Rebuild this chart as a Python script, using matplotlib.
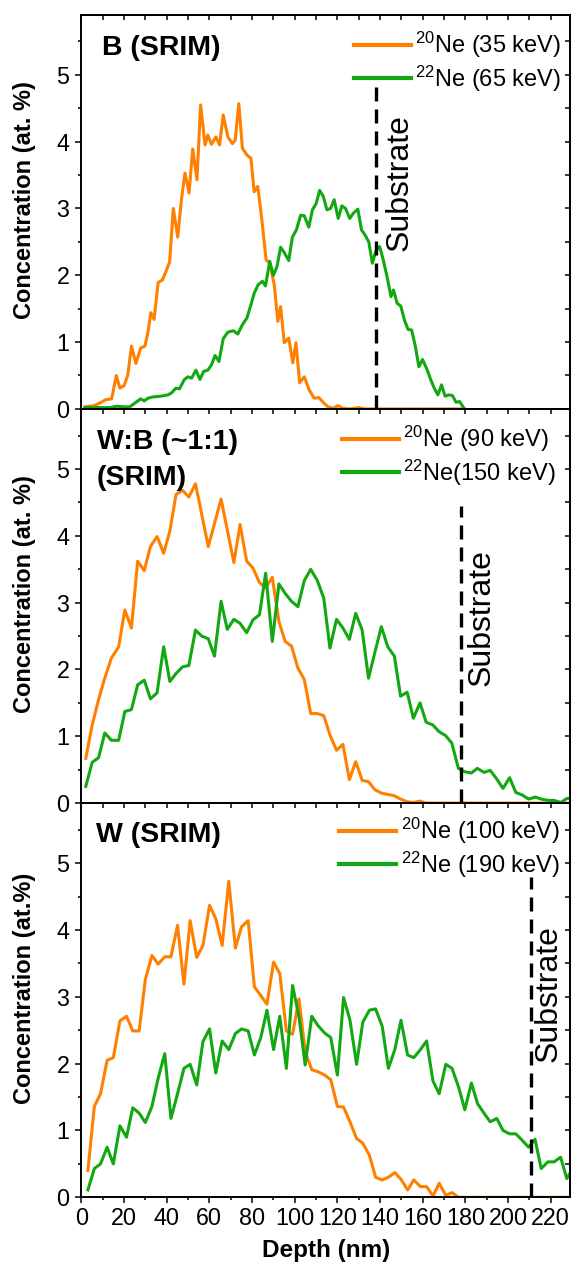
import matplotlib
matplotlib.use("Agg")
import matplotlib.pyplot as plt
from matplotlib.ticker import MultipleLocator, NullFormatter
from matplotlib.lines import Line2D

plt.rcParams['font.family'] = ['Liberation Sans', 'DejaVu Sans']
plt.rcParams['mathtext.fontset'] = 'custom'
plt.rcParams['mathtext.rm'] = 'Liberation Sans'

# ---------------- data ----------------
# Panel 1: B (SRIM)
b_ne20_depth = [1.7, 6.1, 8.2, 11.6, 14.2, 16.4, 18.1, 20.1, 21.8, 23.5, 25.6, 27.8, 29.8, 31.2, 32.6,
                34.1, 36.0, 38.0, 39.7, 41.4, 43.1, 45.2, 46.9, 48.6, 50.5, 52.2, 54.2, 55.9, 58.0, 59.3,
                61.0, 63.1, 64.8, 66.5, 68.7, 70.8, 72.1, 73.8, 75.5, 77.6, 79.5, 81.0, 82.7, 84.6, 86.6,
                88.3, 90.4, 92.1, 93.4, 95.1, 97.2, 99.1, 100.6, 102.3, 104.5, 106.7, 109.1, 111.3, 113.6,
                115.6, 118.2, 120.2, 122.4, 125.8, 130.1, 132.7, 179.5]
b_ne20_conc = [0.03, 0.05, 0.08, 0.14, 0.15, 0.5, 0.31, 0.35, 0.51, 0.94, 0.68, 0.91, 0.94, 1.14, 1.44,
               1.34, 1.89, 1.93, 2.06, 2.2, 3.0, 2.57, 3.13, 3.53, 3.23, 3.89, 3.43, 4.55, 3.95, 4.1,
               3.96, 4.07, 3.95, 4.4, 4.07, 3.97, 4.02, 4.57, 3.9, 3.8, 3.75, 3.25, 3.33, 2.83, 2.23,
               2.18, 1.86, 1.31, 1.53, 0.99, 1.06, 0.69, 0.99, 0.39, 0.48, 0.29, 0.16, 0.17, 0.09,
               0.03, 0.01, 0.05, 0.01, 0.0, 0.02, 0.0, 0.0]
b_ne22_depth = [1.7, 13.3, 16.7, 20.1, 22.7, 25.2, 27.8, 29.5, 31.2, 33.8, 37.2, 38.9, 40.6, 42.3, 44.3,
                46.0, 48.3, 50.0, 51.7, 53.7, 55.6, 57.3, 59.3, 61.0, 62.7, 64.5, 66.5, 68.7, 71.3, 73.3,
                75.5, 77.6, 79.5, 81.0, 82.9, 84.9, 86.3, 88.3, 90.0, 91.7, 93.4, 95.1, 97.2, 98.9, 100.8,
                102.8, 104.5, 106.6, 108.3, 110.0, 111.7, 113.4, 115.1, 116.8, 118.5, 120.4, 122.1, 123.8,
                125.8, 127.5, 129.6, 131.3, 133.0, 134.7, 136.4, 138.1, 139.8, 141.5, 143.4, 145.1, 146.3,
                148.0, 149.7, 151.4, 153.1, 154.8, 156.5, 158.2, 159.9, 162.0, 163.7, 165.4, 167.1, 168.8,
                170.5, 172.2, 173.9, 175.6, 177.3, 179.5]
b_ne22_conc = [0.02, 0.02, 0.04, 0.03, 0.03, 0.09, 0.15, 0.12, 0.16, 0.18, 0.19, 0.2, 0.21, 0.24, 0.31,
               0.3, 0.44, 0.48, 0.46, 0.58, 0.44, 0.56, 0.58, 0.66, 0.8, 0.71, 1.05, 1.15, 1.17, 1.12,
               1.26, 1.36, 1.56, 1.73, 1.86, 1.91, 1.84, 2.21, 2.0, 2.13, 2.42, 2.34, 2.22, 2.57, 2.68,
               2.9, 2.89, 2.72, 2.98, 3.07, 3.27, 3.18, 2.98, 3.0, 3.13, 2.85, 3.04, 3.0, 2.85, 2.93,
               2.99, 2.68, 2.6, 2.5, 2.18, 2.37, 2.43, 2.23, 1.96, 1.68, 1.78, 1.58, 1.54, 1.33, 1.19,
               1.18, 0.94, 0.63, 0.74, 0.59, 0.44, 0.31, 0.21, 0.36, 0.19, 0.21, 0.2, 0.1, 0.11, 0.0]

# Panel 2: W:B (~1:1) (SRIM)
wb_ne20_depth = [2.1, 5.1, 8.1, 11.0, 14.1, 17.5, 20.4, 23.5, 26.4, 29.5, 32.4, 35.5, 38.6, 41.5, 44.4,
                 47.5, 50.4, 53.5, 59.5, 65.5, 71.5, 74.4, 77.5, 80.4, 83.5, 86.4, 89.5, 92.6, 95.5, 98.5,
                 101.5, 104.5, 107.5, 110.6, 113.6, 116.5, 119.6, 122.6, 125.6, 128.6, 131.6, 134.6,
                 137.6, 140.6, 143.6, 146.7, 149.6, 152.7, 155.6, 158.7, 161.6, 229.0]
wb_ne20_conc = [0.67, 1.17, 1.55, 1.87, 2.17, 2.34, 2.89, 2.62, 3.62, 3.48, 3.84, 3.99, 3.74, 4.07, 4.62,
                4.68, 4.58, 4.78, 3.84, 4.55, 3.6, 4.17, 3.62, 3.52, 3.3, 3.22, 3.38, 2.72, 2.42, 2.35,
                2.02, 1.85, 1.34, 1.34, 1.31, 1.02, 0.79, 0.88, 0.35, 0.62, 0.34, 0.32,
                0.2, 0.15, 0.13, 0.11, 0.06, 0.02, 0.01, 0.03, 0.0, 0.0]
wb_ne22_depth = [2.1, 5.1, 8.1, 11.0, 14.1, 17.5, 20.4, 23.5, 26.4, 29.5, 32.4, 35.5, 38.6, 41.5, 44.4,
                 47.5, 50.4, 53.5, 56.4, 59.5, 62.4, 65.5, 68.4, 71.5, 74.4, 77.5, 80.4, 83.5, 86.4, 89.5,
                 92.6, 95.5, 98.5, 101.5, 104.5, 107.5, 110.6, 113.6, 116.5, 119.6, 122.6, 125.6, 128.6,
                 131.6, 134.6, 137.6, 140.6, 143.6, 146.7, 149.6, 152.7, 155.6, 158.7, 161.6, 164.7,
                 167.6, 170.7, 173.6, 176.7, 179.6, 182.7, 185.6, 188.7, 191.6, 194.7, 197.6, 200.7,
                 203.6, 206.7, 209.6, 212.7, 215.6, 218.7, 221.6, 224.7, 227.6, 229.0]
wb_ne22_conc = [0.25, 0.61, 0.68, 1.05, 0.94, 0.94, 1.37, 1.4, 1.77, 1.84, 1.56, 1.65, 2.34, 1.82, 1.94,
                2.04, 2.06, 2.59, 2.5, 2.46, 2.2, 3.02, 2.6, 2.75, 2.69, 2.55, 2.74, 2.82, 3.44, 2.42,
                3.28, 3.14, 3.02, 2.94, 3.33, 3.5, 3.33, 3.07, 2.32, 2.75, 2.62, 2.45, 2.84, 2.59, 1.87,
                2.26, 2.64, 2.34, 2.2, 1.6, 1.66, 1.27, 1.5, 1.21, 1.17, 1.07, 1.01, 0.9, 0.52, 0.47,
                0.45, 0.52, 0.46, 0.49, 0.36, 0.22, 0.38, 0.16, 0.12, 0.06, 0.09, 0.06, 0.04, 0.04, 0.01,
                0.07, 0.07]

# Panel 3: W (SRIM)
w_ne20_depth = [3.1, 6.1, 9.0, 12.1, 15.0, 18.1, 21.2, 24.1, 27.1, 30.0, 33.1, 36.0, 39.1, 42.0, 45.1,
                48.1, 51.0, 54.1, 57.0, 60.1, 63.0, 66.0, 69.1, 72.2, 75.1, 78.2, 81.1, 84.1, 87.0, 90.1,
                93.0, 96.1, 99.0, 102.0, 104.9, 108.0, 110.9, 114.0, 116.9, 120.0, 122.9, 125.9, 129.0,
                131.9, 135.0, 137.9, 141.0, 143.9, 146.9, 149.8, 152.9, 155.8, 158.9, 161.8, 164.8,
                167.7, 170.8, 173.7, 176.8, 229.0]
w_ne20_conc = [0.4, 1.36, 1.55, 2.05, 2.09, 2.64, 2.71, 2.49, 2.49, 3.26, 3.62, 3.49, 3.6, 3.6, 4.07,
               3.19, 4.14, 3.59, 3.77, 4.37, 4.17, 3.77, 4.73, 3.73, 4.05, 4.14, 3.15, 3.02, 2.89, 3.52,
               3.35, 2.49, 2.44, 2.97, 2.18, 1.91, 1.88, 1.83, 1.76, 1.36, 1.35, 1.13, 0.88,
               0.81, 0.63, 0.3, 0.26, 0.3, 0.37, 0.27, 0.11, 0.26, 0.16, 0.16, 0.02,
               0.21, 0.03, 0.07, 0.0, 0.0]
w_ne22_depth = [3.1, 6.1, 9.0, 12.1, 15.0, 18.1, 21.2, 24.1, 27.1, 30.0, 33.1, 36.0, 39.1, 42.0, 45.1,
                48.1, 51.0, 54.1, 57.0, 60.1, 63.0, 66.0, 69.1, 72.2, 75.1, 78.2, 81.1, 84.1, 87.0, 90.1,
                93.0, 96.1, 99.0, 102.0, 104.9, 108.0, 110.9, 114.0, 116.9, 120.0, 122.9, 125.9, 129.0,
                131.9, 135.0, 137.9, 141.0, 143.9, 146.9, 149.8, 152.9, 155.8, 158.9, 161.8, 164.8,
                167.7, 170.8, 173.7, 176.8, 179.7, 182.8, 185.7, 188.7, 191.6, 194.7, 197.6, 200.7,
                203.6, 206.7, 209.6, 212.6, 215.5, 218.6, 221.5, 224.6, 227.5, 229.0]
w_ne22_conc = [0.11, 0.43, 0.5, 0.75, 0.5, 1.07, 0.9, 1.34, 1.26, 1.12, 1.36, 1.78, 2.15, 1.18, 1.55,
               1.93, 1.99, 1.68, 2.33, 2.52, 1.86, 2.34, 2.21, 2.45, 2.52, 2.49, 2.13, 2.39, 2.8, 2.21,
               2.71, 1.93, 3.17, 2.7, 1.98, 2.71, 2.57, 2.46, 2.39, 1.83, 2.99, 2.65, 1.99,
               2.62, 2.8, 2.82, 2.56, 1.93, 2.21, 2.65, 2.13, 2.09, 2.21, 2.34, 1.74,
               1.55, 1.99, 1.93, 1.65, 1.31, 1.71, 1.4, 1.26, 1.13, 1.18, 1.0, 0.95,
               0.95, 0.85, 0.75, 0.87, 0.43, 0.53, 0.53, 0.6, 0.28, 0.36]

titles = [["B (SRIM)"], ["W:B (~1:1)", "(SRIM)"], ["W (SRIM)"]]
legend_20 = [r"$\mathregular{^{20}}$Ne (35 keV)", r"$\mathregular{^{20}}$Ne (90 keV)",
             r"$\mathregular{^{20}}$Ne (100 keV)"]
legend_22 = [r"$\mathregular{^{22}}$Ne (65 keV)", r"$\mathregular{^{22}}$Ne(150 keV)",
             r"$\mathregular{^{22}}$Ne (190 keV)"]
ylabels = ["Concentration (at. %)", "Concentration (at. %)", "Concentration (at.%)"]
substrate_depth = [138, 178, 210.5]
substrate_top = [4.85, 4.45, 4.8]
substrate_label_x = [148.9, 187.6, 219.0]
substrate_label_y = [3.39, 2.78, 3.05]

ORANGE = "#FF8000"
GREEN = "#12A812"

panels = [
    (b_ne20_depth, b_ne20_conc, b_ne22_depth, b_ne22_conc),
    (wb_ne20_depth, wb_ne20_conc, wb_ne22_depth, wb_ne22_conc),
    (w_ne20_depth, w_ne20_conc, w_ne22_depth, w_ne22_conc),
]

# ---------------- layout ----------------
W_PX, H_PX = 571, 1262
fig = plt.figure(figsize=(W_PX / 100, H_PX / 100), dpi=100)
left = 81.3 / W_PX
width = (570.0 - 81.3) / W_PX
bottom0 = (H_PX - 1197.3) / H_PX
h = 394.2 / H_PX

legend_anchor = [(0.982, 0.962), (0.971, 0.962), (0.979, 0.968)]
title_pos = [[(9.8, 5.3)], [(7.3, 5.3), (7.3, 4.76)], [(6.8, 5.32)]]

for i, (d20, c20, d22, c22) in enumerate(panels):
    ax = fig.add_axes([left, bottom0 + (2 - i) * h, width, h])
    ax.plot(d20, c20, color=ORANGE, lw=2.2, solid_joinstyle='round')
    ax.plot(d22, c22, color=GREEN, lw=2.2, solid_joinstyle='round')
    ax.plot([substrate_depth[i], substrate_depth[i]], [0, substrate_top[i]],
            color='black', lw=2.4, dashes=(4.2, 2.4))
    ax.text(substrate_label_x[i], substrate_label_y[i], "Substrate", rotation=90,
            ha='center', va='center', fontsize=23)
    for (tx, ty), t in zip(title_pos[i], titles[i]):
        ax.text(tx, ty, t, fontsize=20.5, fontweight='bold', ha='left', va='baseline')

    ax.set_xlim(0, 229)
    ax.set_ylim(0, 5.9)
    ax.xaxis.set_major_locator(MultipleLocator(20))
    ax.xaxis.set_minor_locator(MultipleLocator(10))
    ax.yaxis.set_major_locator(MultipleLocator(1))
    ax.yaxis.set_minor_locator(MultipleLocator(0.5))
    ax.tick_params(which='both', direction='out', top=False, right=False, labelsize=16.8, width=1.1)
    ax.tick_params(which='major', length=4.6)
    ax.tick_params(which='minor', length=2.4)
    ax.tick_params(axis='y', pad=4)
    ax.tick_params(axis='x', pad=2.5)
    for s in ax.spines.values():
        s.set_linewidth(1.4)

    sx = ax.secondary_xaxis('top')
    sx.xaxis.set_major_locator(MultipleLocator(20))
    sx.xaxis.set_minor_locator(MultipleLocator(10))
    sx.xaxis.set_major_formatter(NullFormatter())
    sx.tick_params(which='both', direction='in', length=3.6, width=1.1)
    sx.spines['top'].set_linewidth(1.4)
    sy = ax.secondary_yaxis('right')
    sy.yaxis.set_major_locator(MultipleLocator(1))
    sy.yaxis.set_minor_locator(MultipleLocator(0.5))
    sy.yaxis.set_major_formatter(NullFormatter())
    sy.tick_params(which='both', direction='in', length=3.6, width=1.1)
    sy.spines['right'].set_linewidth(1.4)

    if i < 2:
        ax.set_xticklabels([])
    else:
        ax.set_xlabel("Depth (nm)", fontsize=17.5, fontweight='bold')
        ax.xaxis.set_label_coords(0.5, -0.105)

    ax.set_ylabel(ylabels[i], fontsize=17, fontweight='bold')
    ax.yaxis.set_label_coords(-0.092, 0.53)

    handles = [Line2D([], [], color=ORANGE, lw=3.0), Line2D([], [], color=GREEN, lw=3.0)]
    ax.legend(handles, [legend_20[i], legend_22[i]], loc='upper right',
              bbox_to_anchor=legend_anchor[i], frameon=False, fontsize=17,
              handlelength=2.4, handletextpad=0.2, labelspacing=0.15,
              borderpad=0, borderaxespad=0)

fig.savefig("out.png", dpi=100)
